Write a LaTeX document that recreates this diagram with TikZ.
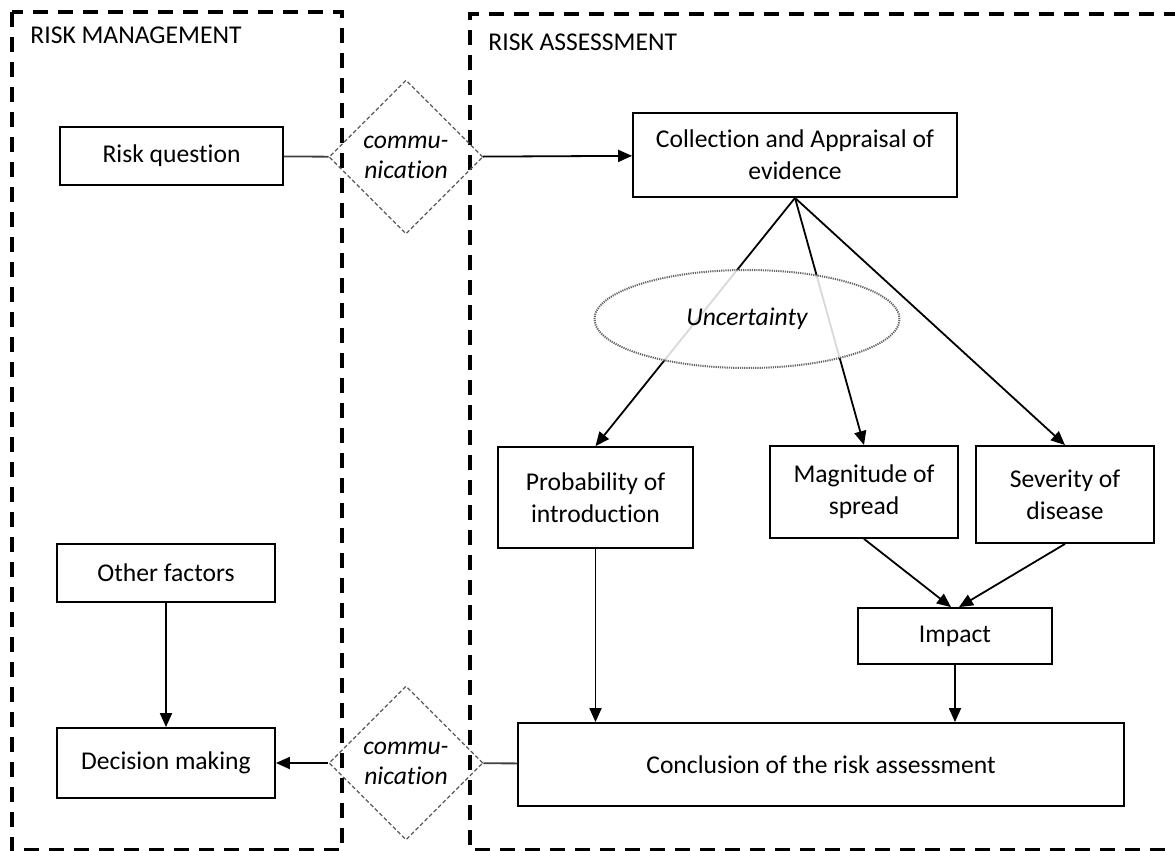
\documentclass[tikz,border=0pt]{standalone}
\usepackage{fontspec}
\setmainfont{Carlito}[Ligatures={NoCommon,NoRare,NoContextual},Contextuals={NoAlternate}]
\usetikzlibrary{shapes.geometric}
\usetikzlibrary{arrows.meta}

\begin{document}
\begin{tikzpicture}[x=0.5pt,y=-0.5pt,
  font=\fontsize{12.8}{16}\selectfont,
  stepbox/.style={draw, line width=0.9pt, align=center, inner sep=0pt},
  commbox/.style={diamond, draw=gray!70!black, dash pattern=on 2pt off 1.2pt, line width=0.6pt,
    minimum width=77pt, minimum height=77pt, inner sep=0pt, align=center,
    font=\fontsize{12.8}{15}\selectfont\itshape},
  uncbox/.style={ellipse, draw=gray!80!black, dash pattern=on 0.6pt off 0.5pt, line width=1pt,
    minimum width=152.5pt, minimum height=49pt, fill=white, fill opacity=0.85, text opacity=1,
    font=\fontsize{12.8}{16}\selectfont\itshape},
  area/.style={draw, line width=2pt, dash pattern=on 7.5pt off 5pt},
  link/.style={line width=0.9pt, gray!50!black},
  flow/.style={line width=0.9pt, -{Triangle[length=7pt,width=6pt]}}
]

\useasboundingbox (0,0) rectangle (1175,851);
\clip (0,0) rectangle (1175,851);

% the two areas
\draw[area] (12,12) rectangle (342,850);
\draw[area] (1190,850) -- (470,850) -- (470,14) -- (1190,14);

\node[anchor=west, inner sep=0pt] (rmlabel) at (30,35) {RISK MANAGEMENT};
\node[anchor=west, inner sep=0pt] (ralabel) at (488,42) {RISK ASSESSMENT};

% nodes
\node[stepbox, minimum width=111.5pt, minimum height=29pt] (rq) at (171.5,156) {Risk question};
\node[commbox] (comm1) at (406,157) {commu-\\nication};
\node[stepbox, minimum width=162pt, minimum height=42pt] (cae) at (795,155) {Collection and Appraisal of\\evidence};

\node[stepbox, minimum width=97.5pt, minimum height=50.5pt] (prob) at (595.5,497.5) {Probability of\\introduction};
\node[stepbox, minimum width=94pt, minimum height=46pt] (mag) at (864,492) {Magnitude of\\spread};
\node[stepbox, minimum width=89pt, minimum height=48.5pt] (sev) at (1065,494.5) {Severity of\\disease};
\node[stepbox, minimum width=97pt, minimum height=28pt] (imp) at (955,636) {Impact};
\node[stepbox, minimum width=303pt, minimum height=41.5pt] (concl) at (821,764.5) {Conclusion of the risk assessment};

\node[commbox] (comm2) at (406,763) {commu-\\nication};
\node[stepbox, minimum width=109pt, minimum height=29pt] (of) at (166,573) {Other factors};
\node[stepbox, minimum width=109pt, minimum height=35pt] (dm) at (166,763) {Decision making};

% connectors
\draw[link] (rq) -- (comm1);
\draw[flow] (comm1) -- (cae);

\draw[flow] (cae.south) -- (prob.north);
\draw[flow] (cae.south) -- (mag.north);
\draw[flow] (cae.south) -- (sev.north);

\node[uncbox] (unc) at (747,319) {Uncertainty};

\draw[flow] (mag.south) -- ([xshift=-2pt]imp.north);
\draw[flow] (sev.south) -- ([xshift=2pt]imp.north);
\draw[flow] (imp.south) -- (imp.south |- concl.north);
\draw[flow] (prob.south) -- (prob.south |- concl.north);

\draw[link] (concl) -- (comm2);
\draw[flow] (comm2) -- (dm);
\draw[flow] (of) -- (dm);

\end{tikzpicture}
\end{document}
